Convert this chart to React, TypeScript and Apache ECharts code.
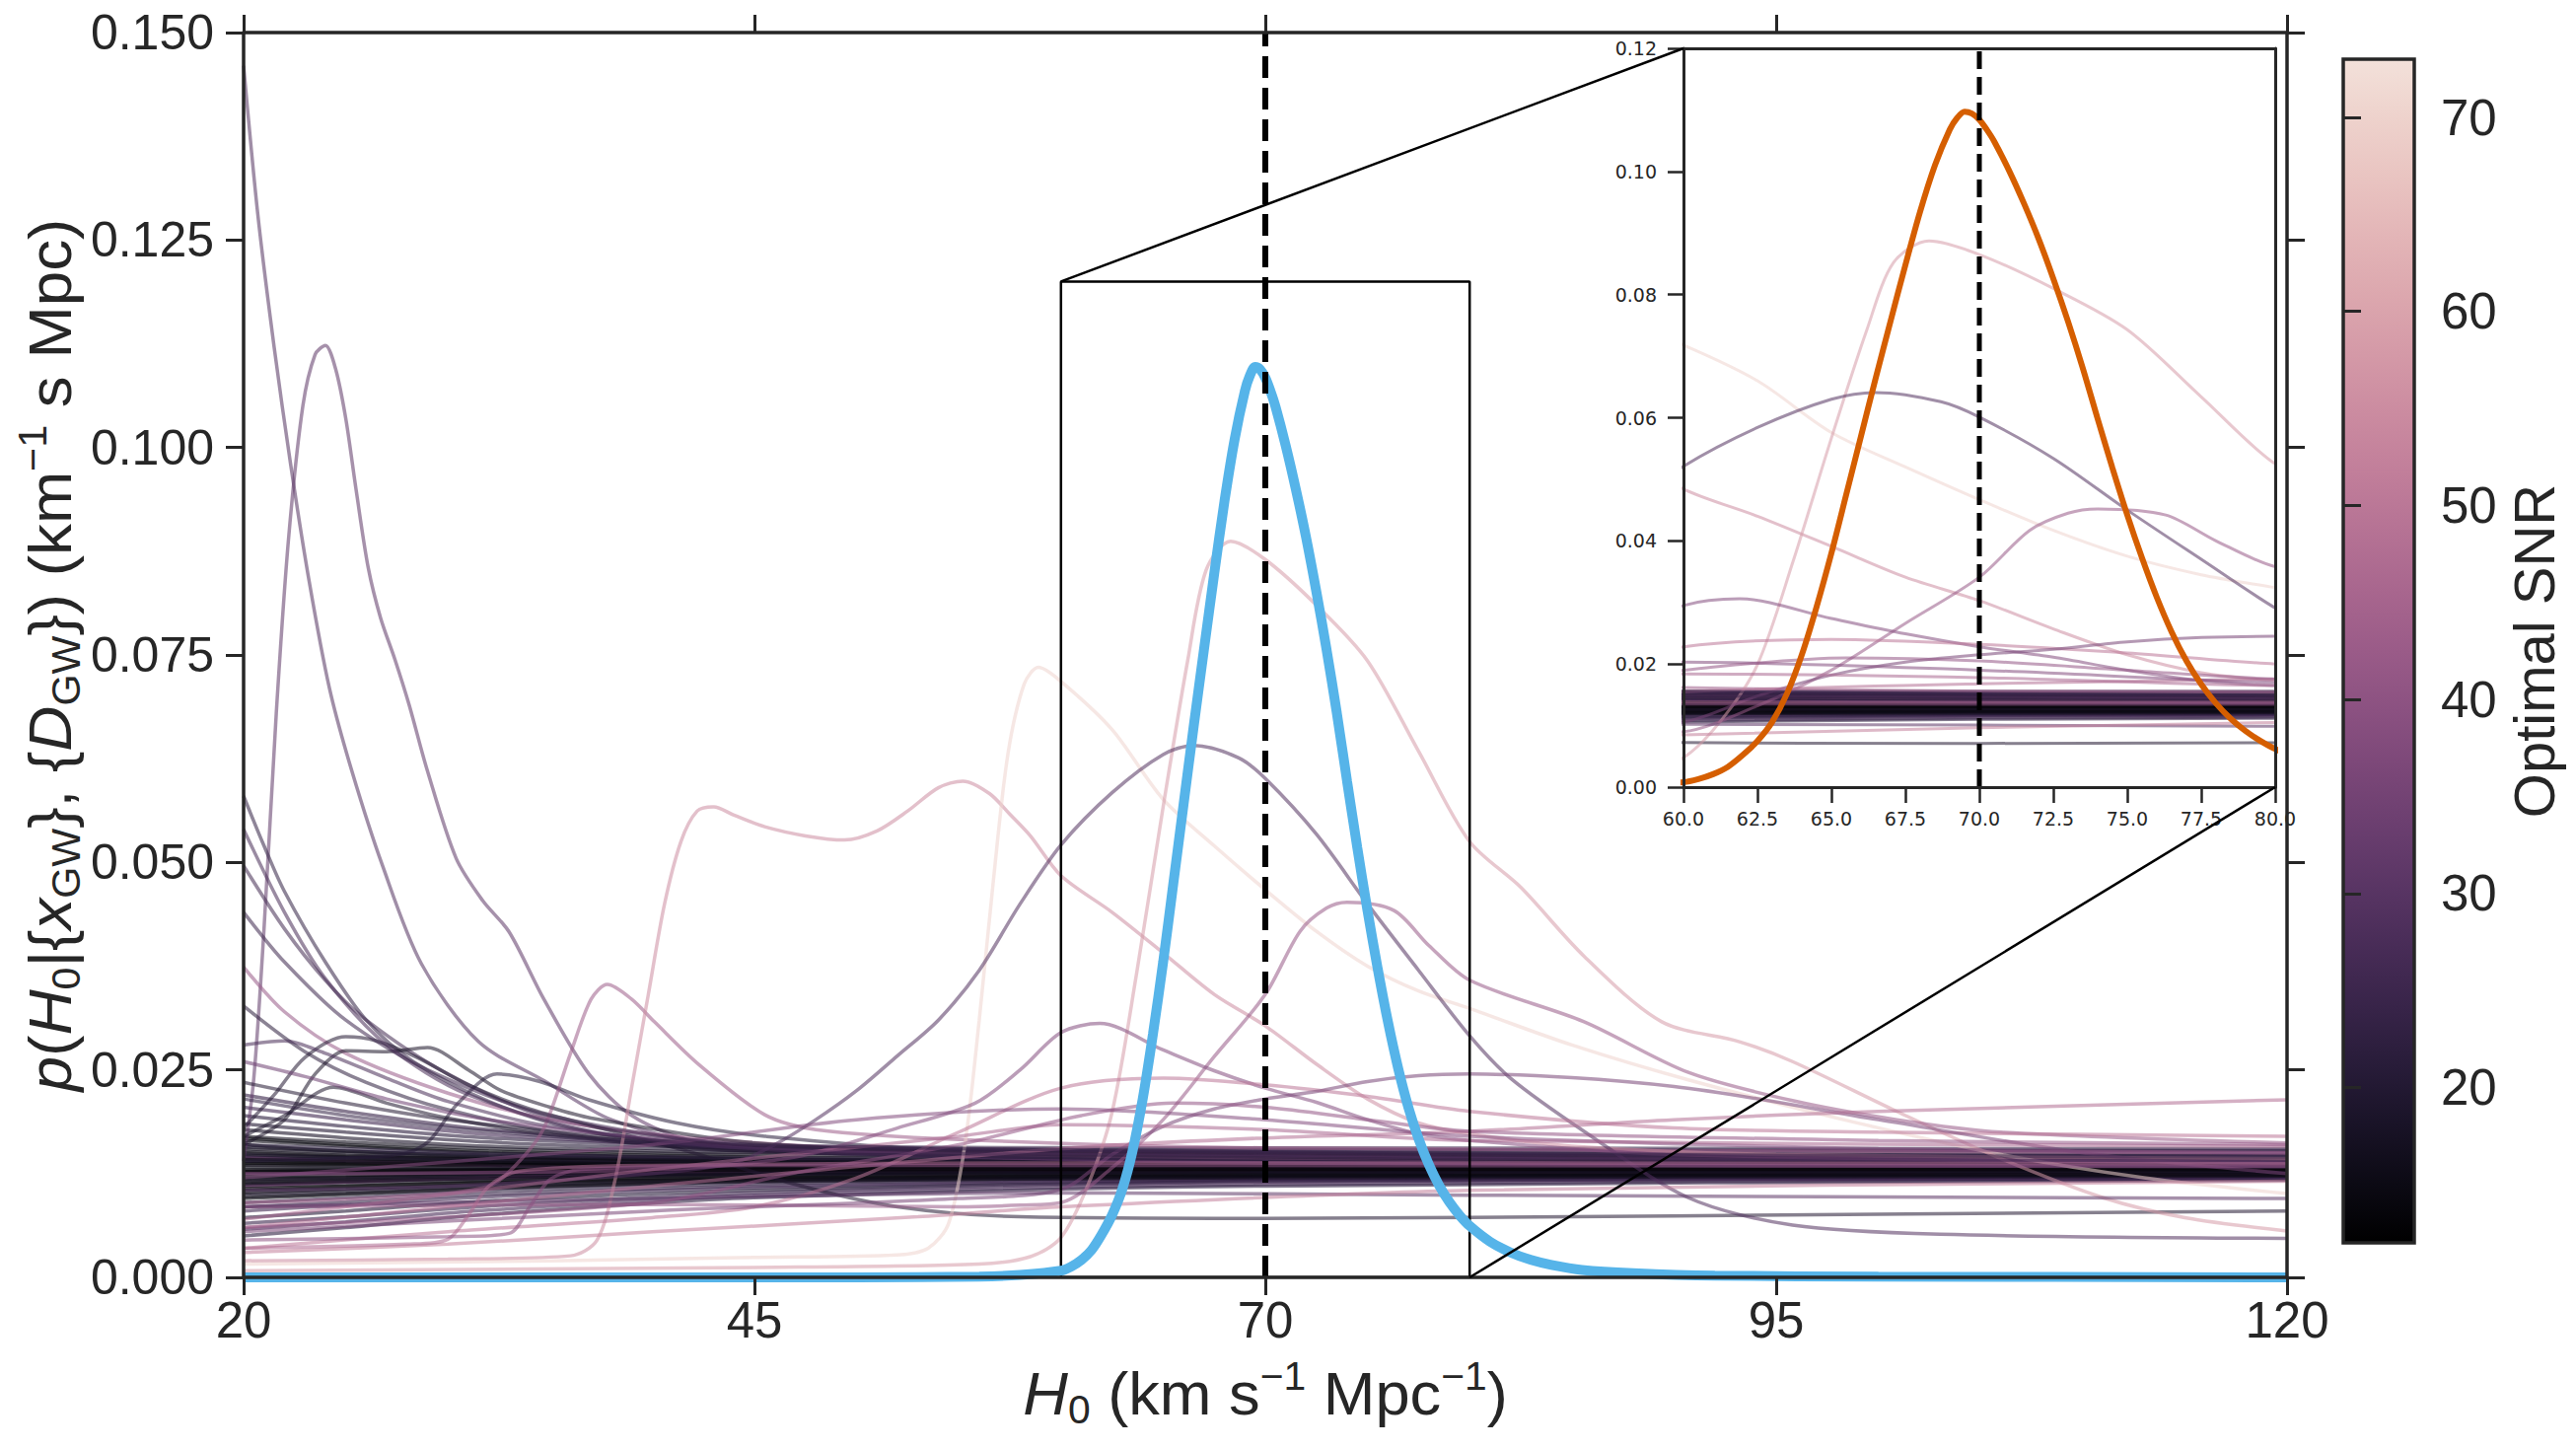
import React, { useEffect, useRef } from "react";
import * as echarts from "echarts";

type P = [number, number];

// ---------- axes / ranges ----------
const mainX = { min: 20, max: 120, step: 25 };
const mainY = { min: 0, max: 0.15, step: 0.025 };
const insetX = { min: 60, max: 80, step: 2.5 };
const insetY = { min: 0, max: 0.12, step: 0.02 };
const snrRange = { min: 12, max: 73 };
const snrTicks = [20, 30, 40, 50, 60, 70];
const truthH0 = 70;

// ---------- combined posterior ----------
const posterior: P[] = [
  [20, 0], [50, 0], [56, 0.0001], [58, 0.0003], [60, 0.0008], [60.5, 0.0013], [61, 0.0021], [61.5, 0.0033], [62, 0.0052], [62.5, 0.0075],
  [63, 0.0106], [63.5, 0.0152], [64, 0.0215], [64.5, 0.0293], [65, 0.038], [65.5, 0.0475], [66, 0.057], [66.5, 0.0665],
  [67, 0.0757], [67.5, 0.0848], [68, 0.0935], [68.5, 0.101], [69, 0.1068], [69.25, 0.1087], [69.5, 0.1097], [69.75, 0.1094], [70, 0.1084],
  [70.25, 0.1068], [70.5, 0.1049], [71, 0.1002], [71.5, 0.0949], [72, 0.0891], [72.5, 0.0826], [73, 0.0756], [73.5, 0.068], [74, 0.0598],
  [74.5, 0.0518], [75, 0.0442], [75.5, 0.0372], [76, 0.0308], [76.5, 0.0252], [77, 0.0205], [77.5, 0.0167],
  [78, 0.0136], [78.5, 0.0111], [79, 0.0091], [79.5, 0.0075], [80, 0.0062], [81, 0.0043], [82, 0.003], [83, 0.0021], [84, 0.0015],
  [85.5, 0.0009], [88, 0.0005], [92, 0.0002], [100, 0.0001], [120, 0],
];

// ---------- individual events (distinct) ----------
const ev01: P[] = [[20, 0.146], [20.7, 0.128], [21.5, 0.112], [22.3, 0.098], [23.2, 0.084], [24.2, 0.071], [25.3, 0.061], [26.8, 0.0496], [28.7, 0.0378], [31.5, 0.0284], [34.7, 0.0237], [38, 0.019], [43, 0.016], [55, 0.0145], [80, 0.0138], [120, 0.0135]];
const ev02: P[] = [[20, 0.014], [20.5, 0.024], [21, 0.042], [21.6, 0.068], [22.2, 0.089], [22.9, 0.105], [23.5, 0.1112], [24, 0.1123], [24.5, 0.1095], [25, 0.1035], [25.5, 0.095], [26.1, 0.0855], [26.7, 0.0795], [27.4, 0.0745], [28.1, 0.069], [29, 0.061], [30.4, 0.0505], [31.7, 0.0454], [33, 0.0416], [34.7, 0.0335], [36.9, 0.0245], [39, 0.0195], [42, 0.0165], [50, 0.015], [70, 0.0138], [120, 0.0133]];
const ev03: P[] = [[20, 0.058], [21, 0.052], [22, 0.0465], [24, 0.038], [26, 0.031], [28.3, 0.026], [32, 0.0212], [36, 0.018], [42, 0.0158], [55, 0.0145], [120, 0.0138]];
const ev04: P[] = [[20, 0.0496], [22, 0.042], [24, 0.0358], [26, 0.031], [30, 0.0245], [35, 0.0192], [45, 0.0158], [60, 0.0145], [120, 0.014]];
const ev05: P[] = [[20, 0.0374], [22, 0.032], [25, 0.027], [30, 0.0222], [35, 0.019], [42, 0.0168], [55, 0.015], [80, 0.0142], [120, 0.014]];
const ev06: P[] = [[20, 0.0327], [23, 0.0272], [26, 0.0235], [30, 0.0202], [36, 0.0172], [45, 0.0152], [70, 0.0142], [120, 0.0138]];
const ev07: P[] = [[20, 0.018], [21.5, 0.022], [23, 0.0265], [25, 0.029], [26.5, 0.0285], [28.5, 0.0265], [31, 0.0232], [34, 0.0203], [37, 0.0183], [42, 0.015], [47, 0.0112], [52, 0.0085], [58, 0.0073], [70, 0.0071], [90, 0.0074], [120, 0.008]];
const ev08: P[] = [[20, 0.016], [22, 0.019], [23.5, 0.0245], [25, 0.0273], [27, 0.0272], [29, 0.0277], [31, 0.025], [32.6, 0.0225], [35, 0.0205], [37, 0.0192], [45, 0.0162], [60, 0.0148], [120, 0.0142]];
const ev09: P[] = [[20, 0.014], [26, 0.0145], [28, 0.015], [29.1, 0.0165], [30.5, 0.021], [32.4, 0.0245], [34.5, 0.0236], [36.9, 0.0214], [41.2, 0.0186], [45.5, 0.017], [55, 0.0153], [120, 0.0143]];
const ev10: P[] = [[20, 0.017], [22, 0.0195], [24.4, 0.0229], [27, 0.021], [30, 0.0192], [35, 0.0172], [45, 0.0152], [120, 0.0137]];
const ev11: P[] = [[20, 0.028], [22, 0.0285], [24, 0.027], [27, 0.024], [30, 0.0212], [35, 0.0182], [45, 0.0157], [120, 0.0138]];
const ev12: P[] = [[20, 0.026], [23, 0.0242], [27, 0.0215], [32, 0.019], [40, 0.0167], [50, 0.0152], [120, 0.0142]];
const ev13: P[] = [[20, 0.0235], [25, 0.021], [30, 0.019], [40, 0.0165], [60, 0.015], [120, 0.0143]];
const ev14: P[] = [[20, 0.0215], [25, 0.0195], [32, 0.0176], [45, 0.0156], [120, 0.0146]];
const ev15: P[] = [[20, 0.009], [28, 0.0098], [32, 0.011], [33.5, 0.014], [34.7, 0.018], [36, 0.027], [37, 0.0335], [37.8, 0.0353], [39, 0.0335], [40.1, 0.0308], [42.3, 0.0256], [45.5, 0.0196], [48, 0.0178], [55, 0.0166], [70, 0.0156], [120, 0.015]];
const ev16: P[] = [[20, 0.002], [30, 0.0022], [36, 0.0026], [37.3, 0.0045], [38.2, 0.012], [39, 0.023], [39.8, 0.034], [40.6, 0.045], [41.4, 0.0525], [42.2, 0.0562], [43, 0.0567], [44, 0.0557], [45.5, 0.0543], [47.5, 0.0532], [49.4, 0.0527], [51, 0.0538], [52.5, 0.0562], [54, 0.059], [55.2, 0.0598], [56.5, 0.0583], [57.5, 0.0558], [58.5, 0.0532], [60, 0.0484], [62.5, 0.044], [65, 0.0391], [67.5, 0.0341], [70, 0.0303], [72.5, 0.0257], [75, 0.0215], [77.5, 0.0186], [80, 0.0173], [85, 0.0158], [95, 0.0148], [120, 0.0143]];
const ev17: P[] = [[20, 0.0016], [35, 0.002], [45, 0.0024], [52, 0.0027], [53.5, 0.0035], [54.5, 0.0065], [55.3, 0.016], [56, 0.031], [56.7, 0.048], [57.4, 0.063], [58.2, 0.0715], [58.9, 0.0735], [60, 0.0718], [62.5, 0.066], [65, 0.0576], [67.5, 0.052], [70, 0.0467], [72.5, 0.0417], [75, 0.0375], [77.5, 0.0345], [80, 0.0324], [85, 0.028], [90.7, 0.0238], [98.3, 0.019], [106, 0.0148], [113, 0.012], [120, 0.0101]];
const ev18: P[] = [[20, 0.0008], [45, 0.0012], [56, 0.0016], [58.5, 0.0025], [60, 0.0048], [61.3, 0.011], [62.5, 0.0199], [63.7, 0.0366], [65, 0.0567], [66.2, 0.0743], [67.1, 0.0852], [68.3, 0.0887], [70, 0.0865], [72.5, 0.081], [75, 0.0743], [77.5, 0.0634], [80, 0.0525], [82.5, 0.047], [85.6, 0.0387], [89.4, 0.0308], [93.2, 0.0284], [95.8, 0.026], [100.9, 0.020], [106, 0.0143], [111, 0.0096], [115, 0.0072], [120, 0.0056]];
const ev19: P[] = [[20, 0.0105], [30, 0.011], [40, 0.0125], [44, 0.0138], [46, 0.016], [48, 0.019], [50, 0.0225], [52, 0.0267], [54, 0.031], [56, 0.037], [58, 0.045], [60, 0.0521], [62.5, 0.0584], [65, 0.063], [66.5, 0.0641], [68.7, 0.0626], [70, 0.0601], [72.5, 0.0534], [75, 0.045], [77.5, 0.037], [80, 0.0291], [82, 0.024], [85.6, 0.0176], [90.7, 0.0096], [95.8, 0.0063], [103, 0.0052], [120, 0.0047]];
const ev20: P[] = [[20, 0.0085], [40, 0.0088], [55, 0.0085], [58, 0.0087], [60, 0.009], [62.5, 0.0132], [65, 0.019], [67.5, 0.0266], [70, 0.0341], [71.7, 0.0417], [73, 0.0445], [74, 0.0452], [76.3, 0.0442], [78, 0.040], [80, 0.0358], [85.6, 0.0308], [90.7, 0.0247], [95.8, 0.0213], [100.9, 0.019], [106, 0.0175], [120, 0.0162]];
const ev21: P[] = [[20, 0.0125], [40, 0.013], [47, 0.0145], [52, 0.018], [55.8, 0.021], [58, 0.025], [60, 0.0295], [61.9, 0.0306], [65, 0.0274], [67.5, 0.0249], [70, 0.0228], [72.5, 0.0211], [75, 0.019], [77.5, 0.0173], [80, 0.0165], [90, 0.0148], [120, 0.0138]];
const ev22: P[] = [[20, 0.0035], [30, 0.0055], [40, 0.0072], [45, 0.0085], [50, 0.012], [55, 0.0175], [60, 0.0228], [65, 0.024], [70, 0.0232], [75, 0.0218], [80, 0.020], [90, 0.018], [100, 0.0175], [120, 0.017]];
const ev23: P[] = [[20, 0.0055], [40, 0.008], [55, 0.0095], [60, 0.0106], [62.5, 0.0148], [65, 0.0182], [67.5, 0.0203], [70, 0.0215], [72.5, 0.0224], [75, 0.0236], [77.5, 0.0243], [80, 0.0245], [90, 0.023], [100, 0.019], [110, 0.015], [120, 0.0125]];
const ev24: P[] = [[20, 0.0085], [40, 0.0095], [60, 0.0102], [80, 0.0099], [120, 0.0095]];
const ev26: P[] = [[20, 0.006], [40, 0.011], [60, 0.0155], [70, 0.0168], [80, 0.0176], [90, 0.019], [100, 0.020], [120, 0.0214]];
const ev27: P[] = [[20, 0.012], [40, 0.016], [50, 0.019], [60, 0.0203], [70, 0.019], [80, 0.017], [100, 0.0155], [120, 0.015]];
const ev28: P[] = [[20, 0.007], [40, 0.013], [55, 0.017], [60, 0.0184], [70, 0.0178], [80, 0.0165], [120, 0.0158]];
const ev29: P[] = [[20, 0.006], [40, 0.009], [46.8, 0.0125], [55, 0.016], [61, 0.0195], [65.5, 0.021], [70, 0.0205], [75, 0.019], [80, 0.0176], [100, 0.0165], [120, 0.016]];
const ev32: P[] = [[20, 0.054], [22, 0.044], [24, 0.036], [27, 0.028], [31, 0.022], [38, 0.0172], [50, 0.015], [120, 0.014]];
const ev33: P[] = [[20, 0.044], [22, 0.038], [25, 0.031], [29, 0.025], [35, 0.0195], [45, 0.016], [120, 0.0145]];
const evP1: P[] = [[20, 0.003], [30, 0.004], [40, 0.0055], [53, 0.0073], [60, 0.0085], [80, 0.0105], [120, 0.0116]];
const evP2: P[] = [[20, 0.0035], [28, 0.004], [30, 0.0046], [31, 0.0075], [32, 0.011], [33.5, 0.0128], [40, 0.0135], [60, 0.0138], [120, 0.0137]];
const evP3: P[] = [[20, 0.0045], [30, 0.0049], [33, 0.0053], [34, 0.0085], [35, 0.0118], [36.5, 0.013], [45, 0.0135], [120, 0.0134]];

const eventLines: { snr: number; pts: P[] }[] = [
  { snr: 29, pts: ev01 }, { snr: 31, pts: ev02 }, { snr: 23, pts: ev03 }, { snr: 26, pts: ev04 },
  { snr: 42, pts: ev05 }, { snr: 22, pts: ev06 }, { snr: 20, pts: ev07 }, { snr: 18, pts: ev08 },
  { snr: 21, pts: ev09 }, { snr: 19, pts: ev10 }, { snr: 27, pts: ev11 }, { snr: 34, pts: ev12 },
  { snr: 20, pts: ev13 }, { snr: 23, pts: ev14 }, { snr: 43, pts: ev15 }, { snr: 55, pts: ev16 },
  { snr: 70, pts: ev17 }, { snr: 58, pts: ev18 }, { snr: 29, pts: ev19 }, { snr: 42, pts: ev20 },
  { snr: 38, pts: ev21 }, { snr: 50, pts: ev22 }, { snr: 36, pts: ev23 }, { snr: 31, pts: ev24 },
  { snr: 48, pts: ev26 }, { snr: 38, pts: ev27 }, { snr: 46, pts: ev28 }, { snr: 41, pts: ev29 },
  { snr: 27, pts: ev32 }, { snr: 25, pts: ev33 }, { snr: 52, pts: evP1 }, { snr: 47, pts: evP2 },
  { snr: 40, pts: evP3 },
];

// ---------- the dense band of low-SNR events ----------
const bandX = [20, 25, 32, 45, 70, 120];
const bandSNR = [15, 14, 16, 13, 17, 15, 18, 14, 16, 19, 13, 17, 15, 20, 14, 22, 24, 26, 21, 25, 27, 23, 16, 18, 20, 15, 13, 17, 14, 16, 19, 13, 22, 26, 24, 35, 40, 33,
  14, 16, 13, 15, 17, 14, 18, 13, 15, 16, 19, 21, 14, 12.5, 16];
const bandY = [
  [0.0165, 0.0158, 0.015, 0.0143, 0.0138, 0.0135],
  [0.016, 0.0152, 0.0146, 0.014, 0.0136, 0.0134],
  [0.0155, 0.015, 0.0145, 0.0141, 0.0139, 0.0137],
  [0.015, 0.0146, 0.0142, 0.0138, 0.0136, 0.0135],
  [0.0145, 0.0142, 0.0139, 0.0137, 0.0135, 0.0133],
  [0.014, 0.0138, 0.0136, 0.0135, 0.0134, 0.0133],
  [0.0135, 0.0134, 0.0133, 0.0133, 0.0132, 0.0131],
  [0.013, 0.013, 0.013, 0.0131, 0.0131, 0.0131],
  [0.0125, 0.0126, 0.0127, 0.0128, 0.0129, 0.0129],
  [0.012, 0.0121, 0.0123, 0.0125, 0.0127, 0.0128],
  [0.0115, 0.0117, 0.012, 0.0123, 0.0125, 0.0126],
  [0.011, 0.0113, 0.0117, 0.0121, 0.0124, 0.0125],
  [0.0105, 0.0109, 0.0114, 0.0119, 0.0122, 0.0124],
  [0.01, 0.0104, 0.011, 0.0117, 0.0121, 0.0123],
  [0.0095, 0.01, 0.0107, 0.0115, 0.012, 0.0122],
  [0.009, 0.0096, 0.0104, 0.0113, 0.0119, 0.0121],
  [0.0085, 0.0091, 0.01, 0.011, 0.0118, 0.012],
  [0.008, 0.0087, 0.0097, 0.0108, 0.0117, 0.0119],
  [0.0072, 0.008, 0.0092, 0.0105, 0.0116, 0.0119],
  [0.0065, 0.0073, 0.0086, 0.0102, 0.0115, 0.012],
  [0.0058, 0.0067, 0.0081, 0.0099, 0.0112, 0.0118],
  [0.005, 0.006, 0.0076, 0.0096, 0.011, 0.0117],
  [0.017, 0.0163, 0.0155, 0.0148, 0.0145, 0.0142],
  [0.0178, 0.0168, 0.0158, 0.015, 0.0148, 0.0147],
  [0.0185, 0.0175, 0.0163, 0.0153, 0.0152, 0.0152],
  [0.0147, 0.0145, 0.0143, 0.014, 0.0138, 0.0138],
  [0.0137, 0.0136, 0.0135, 0.0134, 0.0133, 0.0132],
  [0.0128, 0.0129, 0.013, 0.013, 0.013, 0.013],
  [0.0118, 0.012, 0.0124, 0.0127, 0.0128, 0.0129],
  [0.0112, 0.0115, 0.012, 0.0125, 0.0127, 0.0127],
  [0.0157, 0.0152, 0.0147, 0.0142, 0.014, 0.0139],
  [0.0143, 0.0141, 0.0139, 0.0137, 0.0136, 0.0135],
  [0.0195, 0.0182, 0.0168, 0.0155, 0.015, 0.0148],
  [0.0205, 0.019, 0.0172, 0.0157, 0.0154, 0.0153],
  [0.022, 0.02, 0.0178, 0.0158, 0.0156, 0.0155],
  [0.011, 0.0115, 0.012, 0.0128, 0.0132, 0.0135],
  [0.0125, 0.0125, 0.0126, 0.0128, 0.013, 0.0131],
  [0.0145, 0.014, 0.0135, 0.013, 0.0128, 0.0125],
  [0.0168, 0.016, 0.0152, 0.0145, 0.014, 0.0137],
  [0.0152, 0.0147, 0.0143, 0.0139, 0.0137, 0.0136],
  [0.0138, 0.0137, 0.0136, 0.0135, 0.0134, 0.0134],
  [0.0133, 0.0132, 0.0132, 0.0132, 0.0132, 0.0132],
  [0.0127, 0.0127, 0.0128, 0.0129, 0.013, 0.013],
  [0.0122, 0.0123, 0.0125, 0.0127, 0.0128, 0.0128],
  [0.0117, 0.0119, 0.0122, 0.0125, 0.0127, 0.0127],
  [0.0107, 0.011, 0.0115, 0.012, 0.0123, 0.0124],
  [0.0102, 0.0106, 0.0112, 0.0118, 0.0122, 0.0123],
  [0.0097, 0.0101, 0.0108, 0.0116, 0.012, 0.0122],
  [0.0148, 0.0144, 0.014, 0.0137, 0.0135, 0.0134],
  [0.016, 0.0155, 0.0149, 0.0144, 0.0141, 0.014],
  [0.0142, 0.014, 0.0138, 0.0136, 0.0135, 0.0135],
  [0.0128, 0.0128, 0.0129, 0.013, 0.013, 0.013],
  [0.0113, 0.0116, 0.0119, 0.0124, 0.0126, 0.0127],
];

// ---------- styling ----------
const FONT = "'Liberation Sans Narrow', 'Liberation Sans', Roboto, sans-serif";
const INSET_FONT = "'DejaVu Sans', sans-serif";
const INK = "#262626";
const BLUE = "#56b4e9";
const ORANGE = "#d55e00";

// seaborn cubehelix_palette(dark=0, light=0.9): start 0, rot 0.4, hue 0.8
function cubehelix(x: number): number[] {
  const h = 0.8, s = 0, r = 0.4;
  const a = (h * x * (1 - x)) / 2;
  const phi = 2 * Math.PI * (s / 3 + r * x);
  const c = Math.cos(phi), sn = Math.sin(phi);
  const R = x + a * (-0.14861 * c + 1.78277 * sn);
  const G = x + a * (-0.29227 * c - 0.90649 * sn);
  const B = x + a * (1.97294 * c);
  return [R, G, B].map((v) => Math.round(Math.max(0, Math.min(1, v)) * 255));
}
function snrColor(snr: number, alpha = 1): string {
  const t = Math.max(0, Math.min(1, (snr - snrRange.min) / (snrRange.max - snrRange.min)));
  const [r, g, b] = cubehelix(0.9 * t);
  return `rgba(${r},${g},${b},${alpha})`;
}

const axisLineStyle = { color: INK, width: 3.5 };
const tickStyle = { color: INK, width: 3 };

function buildOption() {
  const allLines: { snr: number; pts: P[]; alpha: number }[] = [];
  bandY.forEach((ys, i) => allLines.push({ snr: bandSNR[i], alpha: 0.6, pts: bandX.map((x, j) => [x, ys[j]] as P) }));
  eventLines.forEach((e) => allLines.push({ ...e, alpha: 0.55 }));

  const series: any[] = [];
  allLines.forEach((ln) => {
    const base = {
      type: "line",
      data: ln.pts,
      showSymbol: false,
      smooth: 0.3,
      silent: true,
      lineStyle: { color: snrColor(ln.snr, ln.alpha), width: 3.5 },
    };
    series.push({ ...base, xAxisIndex: 0, yAxisIndex: 0, z: 2 });
    series.push({ ...base, xAxisIndex: 2, yAxisIndex: 2, z: 4, lineStyle: { ...base.lineStyle, width: 3 } });
  });

  // combined posterior
  series.push({ type: "line", xAxisIndex: 0, yAxisIndex: 0, data: posterior, showSymbol: false, smooth: 0.3, silent: true, z: 6, lineStyle: { color: BLUE, width: 10 } });
  series.push({ type: "line", xAxisIndex: 2, yAxisIndex: 2, data: posterior, showSymbol: false, smooth: 0.3, silent: true, z: 6, lineStyle: { color: ORANGE, width: 6 } });

  // truth lines
  series.push({ type: "line", xAxisIndex: 0, yAxisIndex: 0, data: [[truthH0, mainY.min], [truthH0, mainY.max]], showSymbol: false, silent: true, z: 7, lineStyle: { color: "#000", width: 6, type: [22, 10] } });
  series.push({ type: "line", xAxisIndex: 2, yAxisIndex: 2, data: [[truthH0, insetY.min], [truthH0, insetY.max]], showSymbol: false, silent: true, z: 7, lineStyle: { color: "#000", width: 5, type: [18, 8] } });

  // zoom indicator rectangle on the main axes
  series.push({
    type: "line", xAxisIndex: 0, yAxisIndex: 0, showSymbol: false, silent: true, z: 5,
    data: [[insetX.min, insetY.min], [insetX.min, insetY.max], [insetX.max, insetY.max], [insetX.max, insetY.min], [insetX.min, insetY.min]],
    lineStyle: { color: "#000", width: 2.5 },
  });

  const mainAxisCommon = {
    type: "value",
    z: 8,
    splitLine: { show: false },
    axisLine: { show: true, onZero: false, lineStyle: axisLineStyle },
    axisTick: { show: true, inside: false, length: 18, lineStyle: tickStyle },
  };
  const insetAxisCommon = {
    type: "value",
    z: 8,
    splitLine: { show: false },
    axisLine: { show: true, onZero: false, lineStyle: { color: INK, width: 3 } },
  };

  return {
    animation: false,
    backgroundColor: "#ffffff",
    grid: [
      { left: 247, top: 33, width: 2072, height: 1262, show: false },
      { left: 1707, top: 49, width: 600, height: 749, show: false },
      { left: 2376, top: 60, width: 72, height: 1200, show: false },
    ],
    xAxis: [
      { ...mainAxisCommon, gridIndex: 0, position: "bottom", min: mainX.min, max: mainX.max, interval: mainX.step,
        axisLabel: { fontSize: 51, fontFamily: FONT, color: INK, margin: 18 } },
      { ...mainAxisCommon, gridIndex: 0, position: "top", min: mainX.min, max: mainX.max, interval: mainX.step,
        axisLabel: { show: false } },
      { ...insetAxisCommon, gridIndex: 1, position: "bottom", min: insetX.min, max: insetX.max, interval: insetX.step,
        axisTick: { show: true, inside: false, length: 16, lineStyle: { color: INK, width: 2.5 } },
        axisLabel: { fontSize: 19, fontFamily: INSET_FONT, color: INK, margin: 22, formatter: (v: number) => v.toFixed(1) } },
      { ...insetAxisCommon, gridIndex: 1, position: "top", min: insetX.min, max: insetX.max,
        axisTick: { show: false }, axisLabel: { show: false } },
      { type: "value", gridIndex: 2, min: 0, max: 1, show: false },
    ],
    yAxis: [
      { ...mainAxisCommon, gridIndex: 0, position: "left", min: mainY.min, max: mainY.max, interval: mainY.step,
        axisLabel: { fontSize: 50, fontFamily: FONT, color: INK, margin: 30, formatter: (v: number) => v.toFixed(3) } },
      { ...mainAxisCommon, gridIndex: 0, position: "right", min: mainY.min, max: mainY.max, interval: mainY.step,
        axisLabel: { show: false } },
      { ...insetAxisCommon, gridIndex: 1, position: "left", min: insetY.min, max: insetY.max, interval: insetY.step,
        axisTick: { show: true, inside: false, length: 16, lineStyle: { color: INK, width: 2.5 } },
        axisLabel: { fontSize: 19, fontFamily: INSET_FONT, color: INK, margin: 27, formatter: (v: number) => v.toFixed(2) } },
      { ...insetAxisCommon, gridIndex: 1, position: "right", min: insetY.min, max: insetY.max,
        axisTick: { show: false }, axisLabel: { show: false } },
      { type: "value", gridIndex: 2, position: "right", min: snrRange.min, max: snrRange.max, z: 8,
        splitLine: { show: false },
        axisLine: { show: false },
        axisTick: { show: true, inside: false, length: 18, lineStyle: tickStyle, customValues: snrTicks },
        axisLabel: { fontSize: 51, fontFamily: FONT, color: INK, margin: 27, customValues: snrTicks },
        name: "Optimal SNR", nameLocation: "middle", nameGap: 92, nameRotate: 90,
        nameTextStyle: { fontSize: 58, fontFamily: FONT, color: INK } },
    ],
    series,
  };
}

const LBL = 62;
const labelRich = {
  i: { fontStyle: "italic", fontSize: LBL, fontFamily: FONT, fill: INK, lineHeight: 74 },
  sub: { fontSize: 40, fontFamily: FONT, fill: INK, lineHeight: 40, verticalAlign: "bottom" },
  sup: { fontSize: 40, fontFamily: FONT, fill: INK, lineHeight: 52, verticalAlign: "top" },
};

export default function App() {
  const ref = useRef<HTMLDivElement>(null);
  useEffect(() => {
    if (!ref.current) return;
    const chart = echarts.init(ref.current, null, { renderer: "svg" });
    chart.setOption(buildOption() as any);

    const toMain = (p: number[]) => chart.convertToPixel({ xAxisIndex: 0, yAxisIndex: 0 } as any, p) as number[];
    const toInset = (p: number[]) => chart.convertToPixel({ xAxisIndex: 2, yAxisIndex: 2 } as any, p) as number[];
    const toCb = (p: number[]) => chart.convertToPixel({ xAxisIndex: 4, yAxisIndex: 4 } as any, p) as number[];

    const iTL = toInset([insetX.min, insetY.max]);
    const iBR = toInset([insetX.max, insetY.min]);
    const mTL = toMain([insetX.min, insetY.max]);
    const mBR = toMain([insetX.max, insetY.min]);
    const cTL = toCb([0, snrRange.max]);
    const cBR = toCb([1, snrRange.min]);
    const mainLT = toMain([mainX.min, mainY.max]);
    const mainRB = toMain([mainX.max, mainY.min]);

    const stops: { offset: number; color: string }[] = [];
    for (let k = 0; k <= 20; k++) {
      const off = k / 20;
      const snr = snrRange.max - off * (snrRange.max - snrRange.min);
      stops.push({ offset: off, color: snrColor(snr, 1) });
    }

    chart.setOption({
      graphic: [
        { type: "rect", silent: true, z: 3, shape: { x: iTL[0], y: iTL[1], width: iBR[0] - iTL[0], height: iBR[1] - iTL[1] }, style: { fill: "#ffffff" } },
        { type: "line", silent: true, z: 9, shape: { x1: mTL[0], y1: mTL[1], x2: iTL[0], y2: iTL[1] }, style: { stroke: "#000", lineWidth: 2.5 } },
        { type: "line", silent: true, z: 9, shape: { x1: mBR[0], y1: mBR[1], x2: iBR[0], y2: iBR[1] }, style: { stroke: "#000", lineWidth: 2.5 } },
        { type: "rect", silent: true, z: 1, shape: { x: cTL[0], y: cTL[1], width: cBR[0] - cTL[0], height: cBR[1] - cTL[1] },
          style: { fill: { type: "linear", x: 0, y: 0, x2: 0, y2: 1, colorStops: stops } as any } },
        { type: "rect", silent: true, z: 5, shape: { x: cTL[0], y: cTL[1], width: cBR[0] - cTL[0], height: cBR[1] - cTL[1] },
          style: { fill: "none", stroke: INK, lineWidth: 3.5 } },
        { type: "text", silent: true, z: 9, x: (mainLT[0] + mainRB[0]) / 2, y: 1412, scaleX: 1.02,
          style: { text: "{i|H}{sub|0} (km s{sup|\u22121} Mpc{sup|\u22121})", fontSize: LBL, fontFamily: FONT, fill: INK, lineHeight: 74,
            align: "center", verticalAlign: "middle", rich: labelRich } },
        { type: "text", silent: true, z: 9, x: 50, y: (mainLT[1] + mainRB[1]) / 2, rotation: Math.PI / 2, scaleX: 1.03,
          style: { text: "{i|p}({i|H}{sub|0}|{{i|x}{sub|GW}}, {{i|D}{sub|GW}}) (km{sup|\u22121} s Mpc)", fontSize: LBL, fontFamily: FONT, fill: INK, lineHeight: 74,
            align: "center", verticalAlign: "middle", rich: labelRich } },
      ],
    });

    return () => chart.dispose();
  }, []);

  return <div ref={ref} style={{ position: "fixed", left: 0, top: 0, width: 2612, height: 1469, background: "#fff" }} />;
}
